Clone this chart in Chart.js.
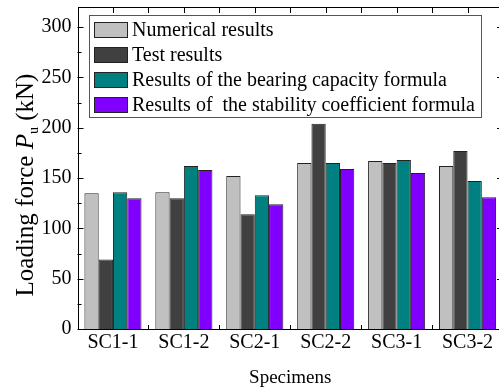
<!DOCTYPE html>
<html>
<head>
<meta charset="utf-8">
<script src="https://cdn.jsdelivr.net/npm/chart.js@4/dist/chart.umd.min.js"></script>
<style>
html,body{margin:0;padding:0;background:#fff;overflow:hidden;width:499px;height:392px;}
#wrap{width:504px;height:392px;}
canvas{display:block;}
</style>
</head>
<body>
<div id="wrap"><canvas id="c" width="504" height="392"></canvas></div>
<script>
const categories = ["SC1-1", "SC1-2", "SC2-1", "SC2-2", "SC3-1", "SC3-2"];
const numerical = [135, 136, 152, 165, 167, 162];
const test = [69, 130, 114, 204, 165, 177];
const bearing = [136, 162, 133, 165, 168, 147];
const stability = [130, 158, 124, 159, 155, 131];
const seriesLabels = [
  "Numerical results",
  "Test results",
  "Results of the bearing capacity formula",
  "Results of  the stability coefficient formula"
];
const yTicks = [0, 50, 100, 150, 200, 250, 300];
const yTitle = ["Loading force ", "P", "u", " (kN)"];
const xTitle = "Specimens";

const colors = ["#c0c0c0", "#404040", "#008080", "#8000ff"];
const FONT = "'Liberation Serif', 'Times New Roman', serif";

const framePlugin = {
  id: 'frame',
  afterDraw(chart) {
    const ctx = chart.ctx;
    const a = chart.chartArea;
    const ys = chart.scales.y;
    ctx.save();
    ctx.strokeStyle = '#000';
    ctx.lineWidth = 1;
    ctx.strokeRect(Math.round(a.left) + 0.5, Math.round(a.top) + 0.5,
      Math.round(a.right - a.left), Math.round(a.bottom - a.top));
    ctx.beginPath();
    for (let v = 0; v <= 320; v += 25) {
      const y = Math.round(ys.getPixelForValue(v)) + 0.5;
      const len = (v % 50 === 0) ? 6 : 4;
      ctx.moveTo(a.left, y); ctx.lineTo(a.left + len, y);
      ctx.moveTo(a.right, y); ctx.lineTo(a.right - len, y);
    }
    const n = categories.length;
    const w = (a.right - a.left) / n;
    for (let i = 1; i < n; i++) {
      const x = Math.round(a.left + i * w) + 0.5;
      ctx.moveTo(x, a.bottom); ctx.lineTo(x, a.bottom - 4);
    }
    for (let i = 1; i < 2 * n; i++) {
      const x = Math.round(a.left + i * w / 2) + 0.5;
      ctx.moveTo(x, a.top); ctx.lineTo(x, a.top + 6);
    }
    ctx.stroke();

    // legend
    const lx = 89.5, ly = 15.5, lw = 392, lh = 102;
    ctx.fillStyle = '#fff';
    ctx.fillRect(lx, ly, lw, lh);
    ctx.strokeStyle = '#555';
    ctx.strokeRect(lx, ly, lw, lh);
    ctx.font = '20px ' + FONT;
    ctx.textBaseline = 'middle';
    ctx.textAlign = 'left';
    chart.data.datasets.forEach((ds, i) => {
      const sy = 22 + i * 25;
      ctx.fillStyle = ds.backgroundColor;
      ctx.fillRect(94.5, sy + 0.5, 33, 15);
      ctx.strokeStyle = '#222';
      ctx.strokeRect(94.5, sy + 0.5, 33, 15);
      ctx.fillStyle = '#000';
      ctx.fillText(ds.label, 132, sy + 8.5);
    });

    // x title
    ctx.textAlign = 'center';
    ctx.font = '19px ' + FONT;
    ctx.fillText(xTitle, (a.left + a.right) / 2, 378);

    // y title rotated
    ctx.translate(24, 185);
    ctx.rotate(-Math.PI / 2);
    const fN = '25px ' + FONT, fI = 'italic 25px ' + FONT, fS = '14px ' + FONT;
    const parts = [[yTitle[0], fN, 0], [yTitle[1], fI, 0], [yTitle[2], fS, 5], [yTitle[3], fN, 0]];
    let total = 0;
    parts.forEach(p => { ctx.font = p[1]; total += ctx.measureText(p[0]).width; });
    let x = -total / 2;
    ctx.textAlign = 'left';
    ctx.textBaseline = 'alphabetic';
    parts.forEach(p => {
      ctx.font = p[1];
      ctx.fillText(p[0], x, 9 + p[2]);
      x += ctx.measureText(p[0]).width;
    });
    ctx.restore();
  }
};

new Chart(document.getElementById('c'), {
  type: 'bar',
  data: {
    labels: categories,
    datasets: [numerical, test, bearing, stability].map((d, i) => ({
      label: seriesLabels[i],
      data: d,
      backgroundColor: colors[i],
      borderColor: '#222',
      borderWidth: 1,
      borderSkipped: 'bottom',
      categoryPercentage: 0.805,
      barPercentage: 1.0
    }))
  },
  options: {
    responsive: false,
    animation: false,
    devicePixelRatio: 1,
    layout: { padding: { top: 7, right: 1, left: 0, bottom: 0 } },
    plugins: { legend: { display: false }, tooltip: { enabled: false } },
    scales: {
      x: {
        grid: { display: false, drawTicks: false },
        border: { display: false },
        ticks: { color: '#000', font: { family: FONT, size: 20 }, padding: 2, maxRotation: 0 },
        afterFit(s) { s.height = 63; s.paddingLeft = 0; s.paddingRight = 0; }
      },
      y: {
        min: 0, max: 320,
        afterBuildTicks(s) { s.ticks = yTicks.map(v => ({ value: v })); },
        grid: { display: false, drawTicks: false },
        border: { display: false },
        ticks: { color: '#000', font: { family: FONT, size: 20 }, padding: 6 },
        afterFit(s) { s.width = 77.5; s.paddingTop = 0; s.paddingBottom = 0; }
      }
    }
  },
  plugins: [framePlugin]
});
</script>
</body>
</html>
